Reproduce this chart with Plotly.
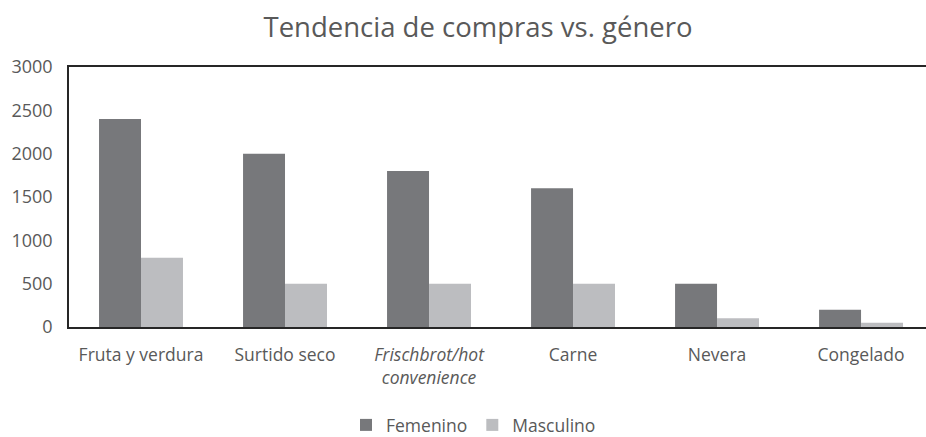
import plotly.graph_objects as go

categories = ["Fruta y verdura", "Surtido seco", "<i>Frischbrot/hot<br>convenience</i>", "Carne", "Nevera", "Congelado"]
femenino = [2400, 2000, 1800, 1600, 500, 200]
masculino = [800, 500, 500, 500, 100, 50]

txt = "#595959"
fig = go.Figure()
fig.add_bar(name="Femenino", x=categories, y=femenino, marker=dict(color="#77787b", line=dict(width=0)))
fig.add_bar(name="Masculino", x=categories, y=masculino, marker=dict(color="#bcbdc0", line=dict(width=0)))

H = 445
fig.update_layout(
    width=926, height=H,
    margin=dict(l=69, r=0, t=67, b=H - 327),
    paper_bgcolor="white", plot_bgcolor="white",
    font=dict(family="Open Sans", size=17, color=txt),
    title=dict(text="Tendencia de compras vs. género", x=478 / 926, xanchor="center", y=1 - 27 / H,
               yanchor="middle", font=dict(size=27.5, color=txt)),
    barmode="group", bargap=0.417, bargroupgap=0,
    showlegend=True,
    legend=dict(orientation="h", x=0.472, xanchor="center", y=-0.377, yanchor="middle",
                font=dict(size=17.5, color=txt), itemwidth=30, traceorder="normal"),
    xaxis=dict(range=[-0.5, 5.451], showline=True, linecolor="#262626", linewidth=1.5, mirror=True,
               showgrid=False, ticks="", tickfont=dict(size=17.5, color=txt), ticklabelstandoff=11,
               fixedrange=True),
    yaxis=dict(range=[0, 3000], dtick=500, showline=True, linecolor="#262626", linewidth=1.5, mirror=False,
               showgrid=False, zeroline=False, ticks="", tickfont=dict(size=18, color=txt), ticklabelstandoff=11,
               fixedrange=True),
)
fig.write_html("out.html", config={"displayModeBar": False},
               post_script="document.body.style.margin='0';")
